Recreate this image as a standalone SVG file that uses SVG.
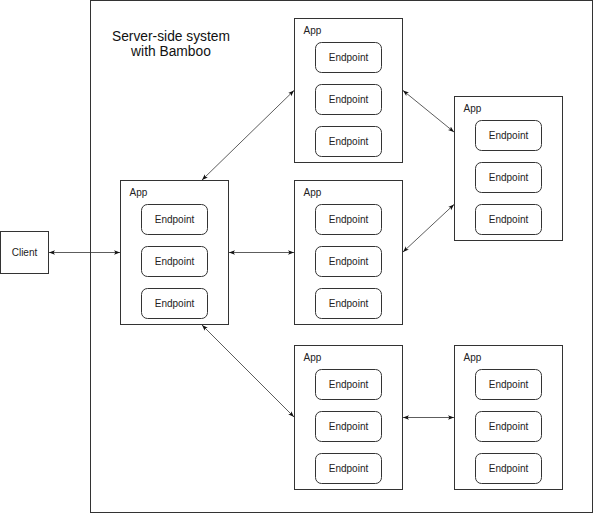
<svg xmlns="http://www.w3.org/2000/svg" width="595" height="514" viewBox="0 0 595 514">
<style>
.box{fill:#fff;stroke:#333;stroke-width:1}
.ep{fill:#fff;stroke:#333;stroke-width:1}
.t{font-family:"Liberation Sans",Arial,sans-serif;font-size:10px;fill:#222}
.title{font-family:"Liberation Sans",Arial,sans-serif;font-size:13.8px;fill:#111}
.c{fill:none;stroke:#333;stroke-width:0.8}
</style>
<defs>
<marker id="a" markerUnits="userSpaceOnUse" markerWidth="7" markerHeight="6" viewBox="0 0 7 6" refX="6" refY="3" orient="auto-start-reverse">
<path d="M0,0.8 L6,3 L0,5.2 L1.5,3 Z" fill="#111"/>
</marker>
<g id="endpoints">
<rect class="ep" x="21" y="24" width="66" height="30" rx="6"/>
<text class="t" x="54" y="42.5" text-anchor="middle">Endpoint</text>
<rect class="ep" x="21" y="66" width="66" height="30" rx="6"/>
<text class="t" x="54" y="84.5" text-anchor="middle">Endpoint</text>
<rect class="ep" x="21" y="108" width="66" height="30" rx="6"/>
<text class="t" x="54" y="126.5" text-anchor="middle">Endpoint</text>
</g>
</defs>
<rect width="595" height="514" fill="#fff"/>
<g id="system">
<rect class="box" x="90.5" y="0.5" width="502" height="512"/>
<text class="title" x="171" y="41" text-anchor="middle">Server-side system</text>
<text class="title" x="171" y="56" text-anchor="middle">with Bamboo</text>
</g>
<g id="client">
<rect class="box" x="0.5" y="231.5" width="48" height="42"/>
<text class="t" x="24.5" y="256" text-anchor="middle">Client</text>
</g>
<g id="app-left" transform="translate(120.5,180.5)">
<rect class="box" x="0" y="0" width="108" height="144"/>
<text class="t" x="9" y="15.5">App</text>
<use href="#endpoints"/>
</g>
<g id="app-top" transform="translate(294.5,18.5)">
<rect class="box" x="0" y="0" width="108" height="144"/>
<text class="t" x="9" y="15.5">App</text>
<use href="#endpoints"/>
</g>
<g id="app-mid" transform="translate(294.5,180.5)">
<rect class="box" x="0" y="0" width="108" height="144"/>
<text class="t" x="9" y="15.5">App</text>
<use href="#endpoints"/>
</g>
<g id="app-bottom" transform="translate(294.5,345.5)">
<rect class="box" x="0" y="0" width="108" height="144"/>
<text class="t" x="9" y="15.5">App</text>
<use href="#endpoints"/>
</g>
<g id="app-right-top" transform="translate(454.5,96.5)">
<rect class="box" x="0" y="0" width="108" height="144"/>
<text class="t" x="9" y="15.5">App</text>
<use href="#endpoints"/>
</g>
<g id="app-right-bottom" transform="translate(454.5,345.5)">
<rect class="box" x="0" y="0" width="108" height="144"/>
<text class="t" x="9" y="15.5">App</text>
<use href="#endpoints"/>
</g>
<g id="connectors">
<line class="c" x1="49" y1="252.5" x2="120" y2="252.5" marker-start="url(#a)" marker-end="url(#a)"/>
<line class="c" x1="202" y1="180" x2="294" y2="90.5" marker-start="url(#a)" marker-end="url(#a)"/>
<line class="c" x1="229" y1="252.5" x2="294" y2="252.5" marker-start="url(#a)" marker-end="url(#a)"/>
<line class="c" x1="202" y1="325" x2="294" y2="417" marker-start="url(#a)" marker-end="url(#a)"/>
<line class="c" x1="403" y1="90.5" x2="454" y2="132" marker-start="url(#a)" marker-end="url(#a)"/>
<line class="c" x1="403" y1="252" x2="454" y2="204.5" marker-start="url(#a)" marker-end="url(#a)"/>
<line class="c" x1="403" y1="417.5" x2="454" y2="417.5" marker-start="url(#a)" marker-end="url(#a)"/>
</g>
</svg>
